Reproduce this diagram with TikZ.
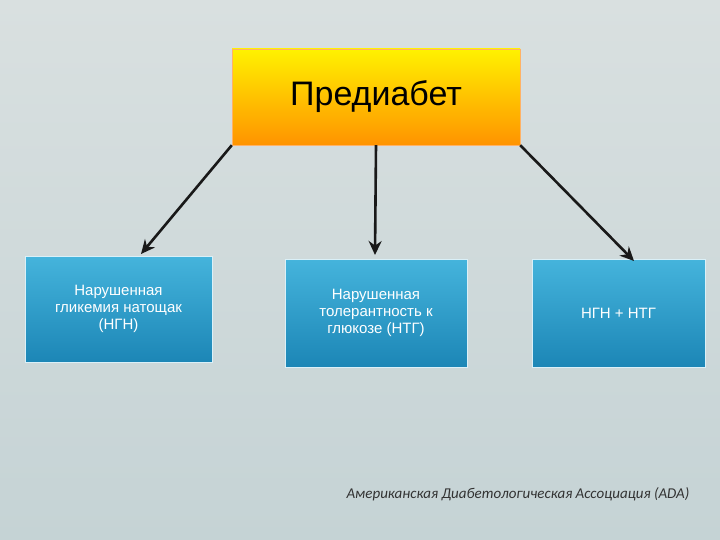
\documentclass[tikz,border=0pt]{standalone}
\usepackage{fontspec}
\setmainfont{Liberation Sans}
\newfontfamily\noteFont{Carlito}
\usetikzlibrary{arrows.meta}
\definecolor{bTop}{HTML}{45B4DC}
\definecolor{bBot}{HTML}{1C86B6}
\definecolor{bgTop}{HTML}{D9E0E0}
\definecolor{bgBot}{HTML}{C5D3D5}
\begin{document}
\begin{tikzpicture}[x=1pt,y=-1pt,
  sub/.style={draw=white!80!bTop,line width=0.6pt,top color=bTop,bottom color=bBot,text=white,align=center,font=\fontsize{15}{17}\selectfont},
  conn/.style={-{Stealth[length=14pt,width=13pt]},line width=2.6pt,black!90}]
\useasboundingbox (0,0) rectangle (720,540);
\shade[top color=bgTop, bottom color=bgBot] (0,0) rectangle (720,540);
\node[draw=orange!60,top color=yellow!90!orange,bottom color=orange!85!yellow,minimum width=288pt,minimum height=96pt,font=\fontsize{34}{38}\selectfont] (top) at (376,97) {Предиабет};
\node[sub,minimum width=187pt,minimum height=106pt] (a) at (118.5,309) {Нарушенная\\гликемия натощак\\(НГН)};
\node[sub,minimum width=182pt,minimum height=108pt] (b) at (376,313) {Нарушенная\\толерантность к\\глюкозе (НТГ)};
\node[sub,minimum width=173pt,minimum height=108pt] (c) at (618.5,313) {НГН + НТГ};
\coordinate (a1) at (141,254);
\coordinate (b1) at (375,255);
\coordinate (c1) at (634,261);
\draw[conn] (top.south west) -- (a1);
\draw[conn] (top.south) -- (b1);
\draw[conn] (top.south east) -- (c1);
\node[font=\noteFont\itshape\fontsize{15}{17}\selectfont,text=black!80] (n) at (518,494) {Американская Диабетологическая Ассоциация (ADA)};
\end{tikzpicture}
\end{document}
